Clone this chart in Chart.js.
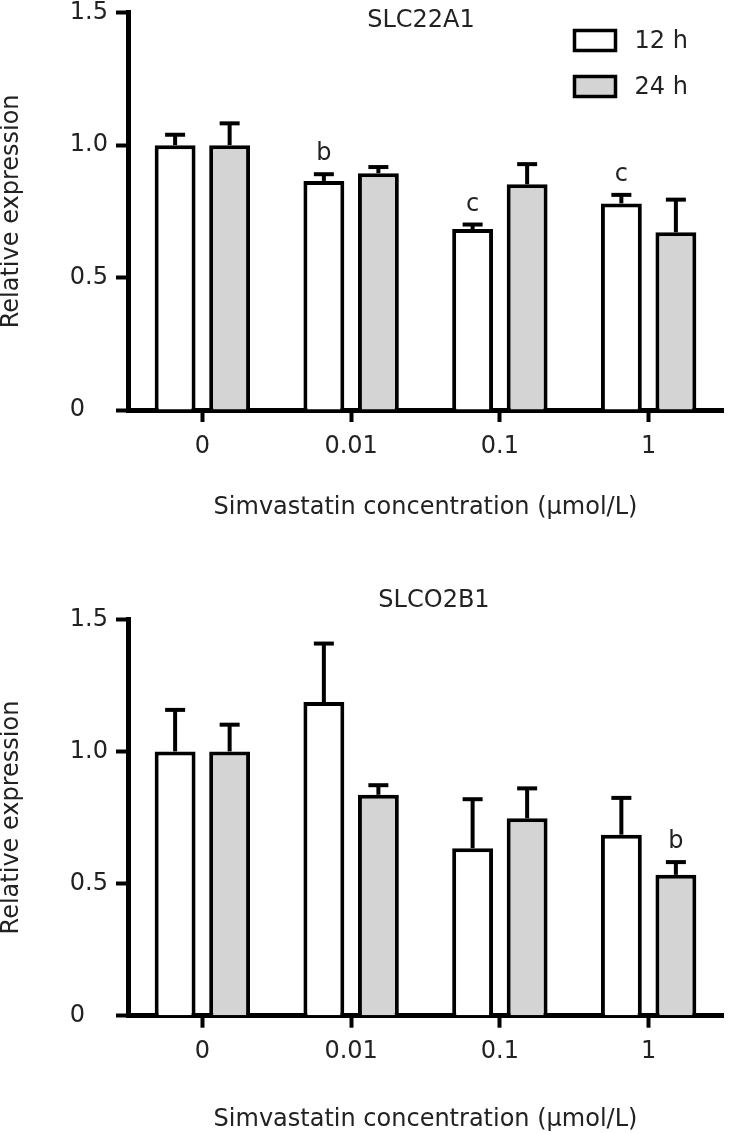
<!DOCTYPE html>
<html>
<head>
<meta charset="utf-8">
<script src="https://cdn.jsdelivr.net/npm/chart.js@4.4.1/dist/chart.umd.min.js"></script>
<style>
body { margin: 0; background: #fff; }
#wrap { position: relative; width: 729px; height: 1133px; }
canvas { position: absolute; left: 0; }
</style>
</head>
<body>
<div id="wrap">
  <canvas id="chartA1" width="729" height="545" style="top:0"></canvas>
  <canvas id="chartO2B1" width="729" height="588" style="top:545px"></canvas>
</div>
<script>
const categories = ['0', '0.01', '0.1', '1'];
const seriesLabels = ['12 h', '24 h'];
const yTicks = [0, 0.5, 1.0, 1.5];

// SLC22A1
const a1_12h = [1.0, 0.865, 0.683, 0.78];
const a1_12hErr = [0.043, 0.029, 0.021, 0.036];
const a1_12hSig = ['', 'b', 'c', 'c'];
const a1_24h = [1.0, 0.894, 0.852, 0.671];
const a1_24hErr = [0.086, 0.027, 0.080, 0.127];
const a1_24hSig = ['', '', '', ''];

// SLCO2B1
const o2b1_12h = [1.0, 1.187, 0.634, 0.685];
const o2b1_12hErr = [0.161, 0.225, 0.189, 0.143];
const o2b1_12hSig = ['', '', '', ''];
const o2b1_24h = [1.0, 0.836, 0.747, 0.533];
const o2b1_24hErr = [0.105, 0.040, 0.117, 0.052];
const o2b1_24hSig = ['', '', '', 'b'];

const FONT = '"DejaVu Sans", "Liberation Sans", Arial, sans-serif';
const TEXT = '#222';
Chart.defaults.font.family = FONT;
Chart.defaults.font.size = 24;
Chart.defaults.color = TEXT;

// error bars + significance letters, placed from the bars and the y scale
const errorBars = {
  id: 'errorBars',
  afterDatasetsDraw(chart) {
    const ctx = chart.ctx;
    const y = chart.scales.y;
    chart.data.datasets.forEach((ds, di) => {
      const meta = chart.getDatasetMeta(di);
      meta.data.forEach((bar, i) => {
        const yTop = y.getPixelForValue(ds.data[i] + ds.errors[i]);
        ctx.save();
        ctx.strokeStyle = '#000';
        ctx.lineWidth = 4;
        ctx.beginPath();
        ctx.moveTo(bar.x, bar.y);
        ctx.lineTo(bar.x, yTop);
        ctx.stroke();
        ctx.beginPath();
        ctx.moveTo(bar.x - 10, yTop + 1);
        ctx.lineTo(bar.x + 10, yTop + 1);
        ctx.stroke();
        if (ds.sig[i]) {
          ctx.fillStyle = TEXT;
          ctx.font = '24px ' + FONT;
          ctx.textAlign = 'center';
          ctx.textBaseline = 'alphabetic';
          ctx.fillText(ds.sig[i], bar.x, yTop - 13);
        }
        ctx.restore();
      });
    });
  }
};

const panelTitle = {
  id: 'panelTitle',
  afterDraw(chart, args, opts) {
    if (!opts || !opts.text) return;
    const ctx = chart.ctx;
    ctx.save();
    ctx.fillStyle = TEXT;
    ctx.font = '24px ' + FONT;
    ctx.textAlign = 'center';
    ctx.textBaseline = 'middle';
    ctx.fillText(opts.text, opts.x, opts.y);
    ctx.restore();
  }
};

const boxLegend = {
  id: 'boxLegend',
  afterDraw(chart, args, opts) {
    if (!opts || !opts.show) return;
    const ctx = chart.ctx;
    chart.data.datasets.forEach((ds, i) => {
      const top = opts.y + i * opts.gap;
      ctx.save();
      ctx.fillStyle = ds.backgroundColor;
      ctx.strokeStyle = ds.borderColor;
      ctx.lineWidth = 3.5;
      ctx.fillRect(opts.x, top, 41, 20);
      ctx.strokeRect(opts.x, top, 41, 20);
      ctx.fillStyle = TEXT;
      ctx.font = '24px ' + FONT;
      ctx.textAlign = 'left';
      ctx.textBaseline = 'middle';
      ctx.fillText(ds.label, opts.x + 60, top + 11);
      ctx.restore();
    });
  }
};

function makeChart(id, title, s12, e12, g12, s24, e24, g24, lay) {
  new Chart(document.getElementById(id), {
    type: 'bar',
    data: {
      labels: categories,
      datasets: [
        { label: seriesLabels[0], data: s12, errors: e12, sig: g12,
          backgroundColor: '#ffffff', borderColor: '#000', borderWidth: 4 },
        { label: seriesLabels[1], data: s24, errors: e24, sig: g24,
          backgroundColor: '#d4d4d4', borderColor: '#000', borderWidth: 4 }
      ]
    },
    options: {
      responsive: false,
      animation: false,
      events: [],
      categoryPercentage: 0.733,
      barPercentage: 0.75,
      layout: { padding: { top: lay.top, left: 0, right: 6, bottom: lay.bottom } },
      plugins: {
        legend: { display: false },
        tooltip: { enabled: false },
        panelTitle: title,
        boxLegend: lay.legend
      },
      scales: {
        x: {
          afterFit: s => { s.height = lay.xHeight; s.paddingLeft = 0; s.paddingRight = 0; },
          border: { color: '#000', width: 5 },
          grid: { offset: false, drawOnChartArea: false, drawTicks: true, tickLength: 12, tickWidth: 4, tickColor: '#000' },
          ticks: { padding: 10, color: TEXT },
          title: { display: true, text: 'Simvastatin concentration (μmol/L)', color: TEXT,
                   font: { size: 24, lineHeight: 1 }, padding: 0 }
        },
        y: {
          min: 0,
          max: 1.5,
          afterBuildTicks: s => { s.ticks = yTicks.map(v => ({ value: v })); },
          afterFit: s => { s.width = 128; s.paddingTop = 0; s.paddingBottom = 0; },
          border: { color: '#000', width: 5 },
          grid: { drawOnChartArea: false, drawTicks: true, tickLength: 12, tickWidth: 4, tickColor: '#000' },
          ticks: { padding: 8, color: TEXT, callback: v => v === 0 ? '0   ' : v.toFixed(1) },
          title: { display: true, text: 'Relative expression', color: TEXT,
                   font: { size: 24, lineHeight: 1 }, padding: 0 }
        }
      }
    },
    plugins: [errorBars, panelTitle, boxLegend]
  });
}

makeChart('chartA1', { text: 'SLC22A1', x: 421, y: 21 },
  a1_12h, a1_12hErr, a1_12hSig, a1_24h, a1_24hErr, a1_24hSig,
  { top: 12.7, bottom: 25, xHeight: 110, legend: { show: true, x: 574.5, y: 30.5, gap: 46 } });

makeChart('chartO2B1', { text: 'SLCO2B1', x: 434, y: 56 },
  o2b1_12h, o2b1_12hErr, o2b1_12hSig, o2b1_24h, o2b1_24hErr, o2b1_24hSig,
  { top: 74.3, bottom: 1, xHeight: 116.3, legend: { show: false } });
</script>
</body>
</html>
